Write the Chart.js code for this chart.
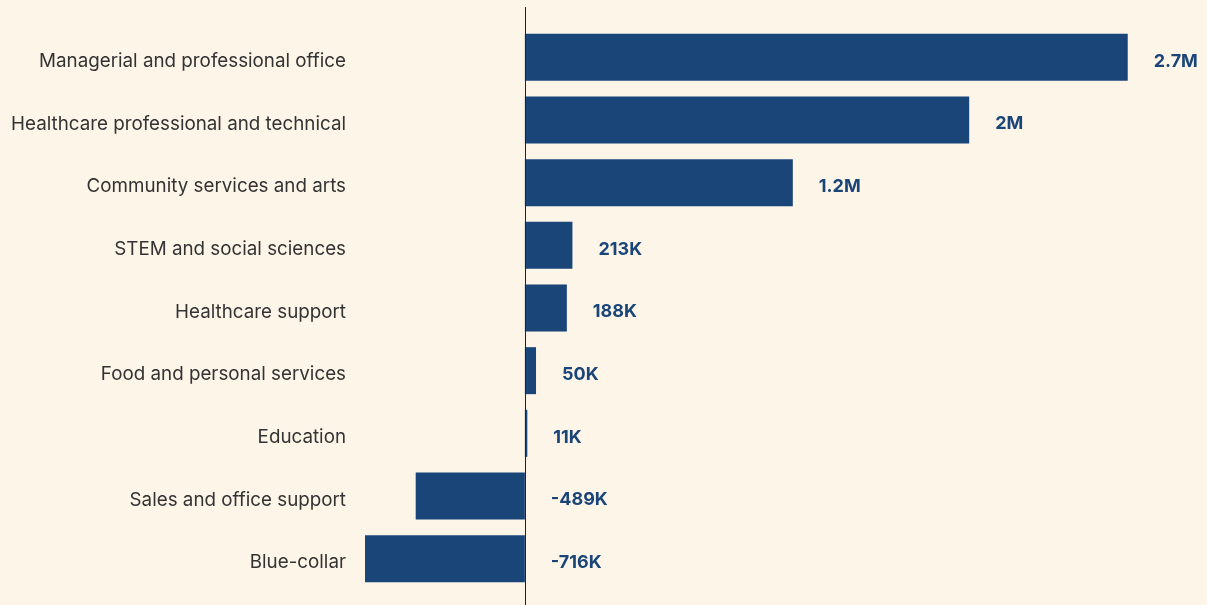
<!DOCTYPE html>
<html lang="en">
<head>
    <meta charset="UTF-8">
    <title>Employment change by occupation</title>
    <script src="https://cdn.jsdelivr.net/npm/chart.js"></script>
    <style>
        body { margin: 0; background: #fef5e9; }
        .chart-box { width: 1207px; height: 605px; position: relative; }
    </style>
</head>
<body>
    <div class="chart-box"><canvas id="myChart"></canvas></div>

    <script>
        // dados do grafico
        var categorias = [
            'Managerial and professional office',
            'Healthcare professional and technical',
            'Community services and arts',
            'STEM and social sciences',
            'Healthcare support',
            'Food and personal services',
            'Education',
            'Sales and office support',
            'Blue-collar'
        ];
        var valores = [2700000, 1990000, 1200000, 213000, 188000, 50000, 11000, -489000, -716000];
        var rotulos = ['2.7M', '2M', '1.2M', '213K', '188K', '50K', '11K', '-489K', '-716K'];

        // linha vertical no zero + rotulos dos valores
        var extrasPlugin = {
            id: 'extras',
            afterDatasetsDraw: function (chart) {
                var ctx = chart.ctx;
                var x = chart.scales.x;
                var meta = chart.getDatasetMeta(0);
                var x0 = Math.round(x.getPixelForValue(0)) + 0.5;

                ctx.save();
                ctx.strokeStyle = '#222222';
                ctx.lineWidth = 1;
                ctx.beginPath();
                ctx.moveTo(x0, 7);
                ctx.lineTo(x0, chart.height);
                ctx.stroke();

                ctx.fillStyle = '#1a4578';
                ctx.font = 'bold 18px Inter';
                ctx.textAlign = 'left';
                ctx.textBaseline = 'middle';
                meta.data.forEach(function (bar, i) {
                    var fim = Math.max(x.getPixelForValue(valores[i]), x.getPixelForValue(0));
                    ctx.fillText(rotulos[i], fim + 26, bar.y + 4);
                });
                ctx.restore();
            }
        };

        var ctx = document.getElementById('myChart').getContext('2d');
        var myChartInstance = new Chart(ctx, {
            type: 'bar',
            data: {
                labels: categorias,
                datasets: [{
                    data: valores,
                    backgroundColor: '#1a4578',
                    borderWidth: 0,
                    barPercentage: 0.75,
                    categoryPercentage: 1
                }]
            },
            options: {
                indexAxis: 'y',
                responsive: true,
                maintainAspectRatio: false,
                animation: false,
                layout: { padding: { top: 26, bottom: 15, right: 0, left: 0 } },
                plugins: {
                    legend: { display: false },
                    tooltip: { enabled: false }
                },
                scales: {
                    x: {
                        display: false,
                        min: -716000,
                        max: 3055000
                    },
                    y: {
                        afterFit: function (scale) {
                            scale.width = 365;
                            scale.paddingTop = 0;
                            scale.paddingBottom = 0;
                        },
                        grid: { display: false, drawTicks: false },
                        border: { display: false },
                        ticks: {
                            padding: 19,
                            labelOffset: 4,
                            color: '#333333',
                            font: { family: 'Inter', size: 18.8 }
                        }
                    }
                }
            },
            plugins: [extrasPlugin]
        });
    </script>
</body>
</html>
